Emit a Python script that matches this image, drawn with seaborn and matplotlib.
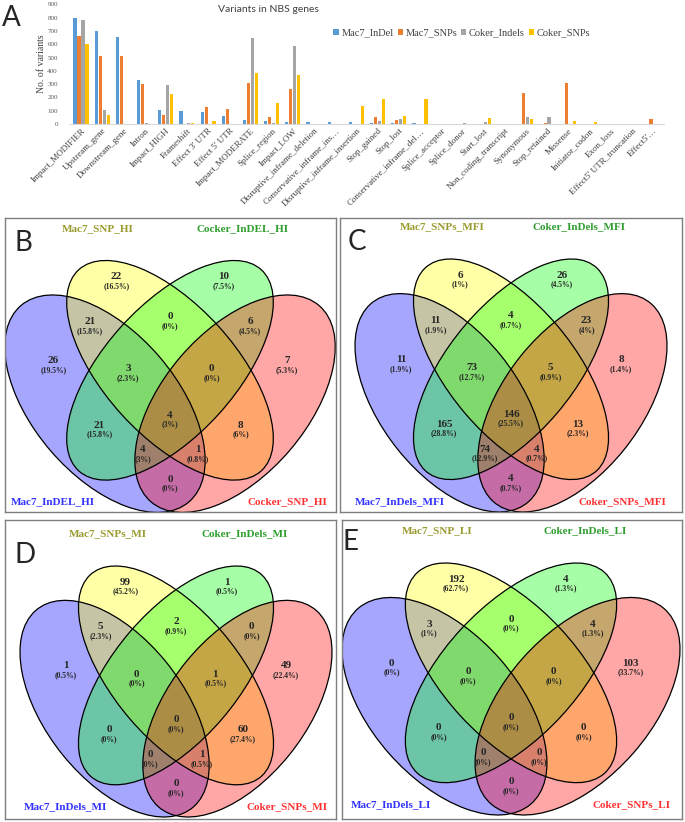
import matplotlib
matplotlib.use("Agg")
import matplotlib.pyplot as plt
from matplotlib.patches import Ellipse
import numpy as np
import pandas as pd
import seaborn as sns

# ---- Panel A data ----
categories = [
    "Impact_MODIFIER", "Upstream_gene", "Downstream_gene", "Intron", "Impact_HIGH",
    "Frameshift", "Effect 3' UTR", "Effect 5' UTR", "Impact_MODERATE", "Splice_region",
    "Impact_LOW", "Disruptive_inframe_deletion", "Conservative_inframe_ins…",
    "Disruptive_inframe_insertion", "Stop_gained", "Stop_lost", "Conservative_inframe_del…",
    "Splice_acceptor", "Splice_donor", "Start_lost", "Non_coding_transcript", "Synonymous",
    "Stop_retained", "Missense", "Initiator_codon", "Exon_loss", "Effect5' UTR_truncation",
    "Effect5'…",
]
mac7_indel = [795, 700, 652, 330, 107, 100, 88, 62, 30, 25, 18, 15, 15, 12, 8, 5, 8,
              3, 2, 2, 3, 0, 0, 0, 0, 2, 0, 0]
mac7_snps = [662, 515, 512, 302, 68, 0, 125, 112, 310, 52, 265, 0, 0, 0, 55, 27, 0,
             3, 2, 0, 0, 230, 8, 310, 0, 3, 0, 37]
coker_indels = [785, 105, 0, 5, 290, 7, 0, 0, 650, 8, 585, 0, 0, 0, 20, 37, 0,
                3, 4, 12, 3, 55, 55, 2, 3, 3, 0, 0]
coker_snps = [600, 68, 0, 0, 225, 5, 25, 0, 380, 160, 370, 0, 0, 132, 190, 60, 190,
              0, 0, 42, 0, 37, 0, 25, 15, 3, 0, 0]
series_names = ["Mac7_InDel", "Mac7_SNPs", "Coker_Indels", "Coker_SNPs"]
bar_colors = ["#5B9BD5", "#ED7D31", "#A5A5A5", "#FFC000"]

# ---- Venn data, region order: sets 1=Mac7 InDel, 2=Mac7 SNP, 3=Coker InDel, 4=Coker SNP ----
regions = ["2", "3", "12", "23", "34", "1", "123", "234", "4", "13", "1234", "24", "134", "124", "14"]
counts_hi = [22, 10, 21, 0, 6, 26, 3, 0, 7, 21, 4, 8, 4, 1, 0]
counts_mfi = [6, 26, 11, 4, 23, 11, 73, 5, 8, 165, 146, 13, 74, 4, 4]
counts_mi = [99, 1, 5, 2, 0, 1, 0, 1, 49, 0, 0, 60, 0, 1, 0]
counts_li = [192, 4, 3, 0, 4, 0, 0, 0, 103, 0, 0, 0, 0, 0, 0]
names_hi = ["Mac7_SNP_HI", "Cocker_InDEL_HI", "Mac7_InDEL_HI", "Cocker_SNP_HI"]
names_mfi = ["Mac7_SNPs_MFI", "Coker_InDels_MFI", "Mac7_InDels_MFI", "Coker_SNPs_MFI"]
names_mi = ["Mac7_SNPs_MI", "Coker_InDels_MI", "Mac7_InDels_MI", "Coker_SNPs_MI"]
names_li = ["Mac7_SNP_LI", "Coker_InDels_LI", "Mac7_InDels_LI", "Coker_SNPs_LI"]

# venn layout in a y-down template frame (pixels of panel B)
X0 = 170.0
inner_c, inner_a, inner_b, inner_ang = (X0, 370.3), 135.8, 65.5, 47.8
outer_c, outer_a, outer_b, outer_ang = (104.95, 403.7), 129.2, 71.9, 49.45
region_xy = {
    "2": (116.3, 276.7), "3": (223.7, 276.7), "12": (90, 321.7), "23": (170, 316.7),
    "34": (250, 321.7), "1": (53.3, 360.7), "123": (128.3, 369), "234": (211.7, 369),
    "4": (286.7, 360.7), "13": (99.2, 425), "1234": (170, 415), "24": (240.8, 425),
    "134": (142.5, 450), "124": (197.5, 450), "14": (170, 479),
}
name_xy = [(97.5, 228.3), (242.5, 228.3), (52.5, 501.7), (287.5, 501.7)]
ell_colors = ["blue", "yellow", "#00FF00", "red"]
name_colors = ["#9B9B2F", "#2E9E2E", "#3333FF", "#FF3333"]

W, H = 685, 822
sns.set_style("white")
plt.rcParams['font.family'] = ['Liberation Serif', 'DejaVu Serif']
fig = plt.figure(figsize=(W / 100, H / 100), dpi=100)


def px_axes(x0, y0, x1, y1):
    return fig.add_axes([x0 / W, 1 - y1 / H, (x1 - x0) / W, (y1 - y0) / H])


# ---- Panel A ----
df = pd.DataFrame({
    "Category": categories * 4,
    "Count": mac7_indel + mac7_snps + coker_indels + coker_snps,
    "Series": sum([[s] * len(categories) for s in series_names], []),
})
ax = px_axes(70.4, 4.3, 663.6, 124)
sns.barplot(data=df, x="Category", y="Count", hue="Series", palette=bar_colors,
            width=0.75, gap=0.2, errorbar=None, saturation=1, linewidth=0, ax=ax)
ax.set_xlim(-0.5, len(categories) - 0.5)
ax.set_ylim(0, 900)
ax.set_yticks(range(0, 901, 100))
ax.tick_params(axis='y', labelsize=5, labelcolor='#595959', length=0, pad=9)
ax.tick_params(axis='x', length=0, pad=2)
ax.set_xticks(range(len(categories)))
ax.set_xticklabels(categories, rotation=45, ha='right', rotation_mode='anchor',
                   fontsize=6.5, color='#404040')
ax.set_xlabel("")
ax.set_ylabel("No. of variants", fontsize=7, color='#404040')
ax.yaxis.set_label_coords(-0.041, 0.5)
for s in ["top", "right", "left"]:
    ax.spines[s].set_visible(False)
ax.spines["bottom"].set_color('#D9D9D9')
ax.spines["bottom"].set_linewidth(0.8)
ax.legend(ncol=4, loc='center', bbox_to_anchor=(462 / W, 1 - 33 / H),
          bbox_transform=fig.transFigure, frameon=False, fontsize=7.5,
          handlelength=0.5, handleheight=0.5, handletextpad=0.25, columnspacing=0.4,
          labelcolor='#404040')
fig.text(268 / W, 1 - 10 / H, "Variants in NBS genes", fontsize=7.5, family='Lato',
         ha='center', va='center', color='#404040')
fig.text(11 / W, 1 - 18 / H, "A", fontsize=20, family='Lato', ha='center', va='center')


# ---- Venn panels ----
def half_extent(a, b, ang):
    t = np.radians(ang)
    return (np.hypot(a * np.cos(t), b * np.sin(t)), np.hypot(a * np.sin(t), b * np.cos(t)))


o_hx, o_hy = half_extent(outer_a, outer_b, outer_ang)
i_hx, i_hy = half_extent(inner_a, inner_b, inner_ang)
t_left = outer_c[0] - o_hx
t_right = 2 * X0 - t_left
t_top = inner_c[1] - i_hy
t_bottom = outer_c[1] + o_hy

ellipses = [
    (outer_c, outer_a, outer_b, outer_ang),
    (inner_c, inner_a, inner_b, inner_ang),
    (inner_c, inner_a, inner_b, 180 - inner_ang),
    ((2 * X0 - outer_c[0], outer_c[1]), outer_a, outer_b, 180 - outer_ang),
]


def draw_venn(box, vbox, names, counts, letter, letter_xy):
    x0, y0, x1, y1 = box
    vl, vr, vt, vb = vbox
    vax = px_axes(x0, y0, x1, y1)
    sx = (t_right - t_left) / (vr - vl)
    sy = (t_bottom - t_top) / (vb - vt)
    vax.set_xlim(t_left + (x0 - vl) * sx, t_left + (x1 - vl) * sx)
    vax.set_ylim(t_top + (y1 - vt) * sy, t_top + (y0 - vt) * sy)
    vax.set_xticks([])
    vax.set_yticks([])
    for s in vax.spines.values():
        s.set_color('#7F7F7F')
        s.set_linewidth(1.0)
    for (c, a, b, ang), col in zip(ellipses, ell_colors):
        vax.add_patch(Ellipse(c, 2 * a, 2 * b, angle=ang, facecolor=col,
                              alpha=0.35, edgecolor='none'))
    for c, a, b, ang in ellipses:
        vax.add_patch(Ellipse(c, 2 * a, 2 * b, angle=ang, facecolor='none',
                              edgecolor='black', lw=0.9))
    total = sum(counts)
    for key, n in zip(regions, counts):
        x, y = region_xy[key]
        pct = round(100 * n / total, 1)
        vax.text(x, y, str(n), fontsize=8, fontweight='bold', ha='center', va='center')
        vax.text(x, y + 9.3, f"({pct:g}%)", fontsize=5.5, fontweight='bold',
                 ha='center', va='center')
    for (nx, ny), nm, col in zip(name_xy, names, name_colors):
        vax.text(nx, ny, nm, fontsize=8, fontweight='bold', color=col,
                 ha='center', va='center')
    fig.text(letter_xy[0] / W, 1 - letter_xy[1] / H, letter, fontsize=20,
             family='Lato', ha='center', va='center')


draw_venn((5, 218, 336, 512), (t_left, t_right, t_top, t_bottom), names_hi, counts_hi, "B", (23, 243))
draw_venn((340, 218, 682, 512), (355, 667, 259, 512), names_mfi, counts_mfi, "C", (357, 242))
draw_venn((5, 520, 336, 819), (20, 332, 566, 817), names_mi, counts_mi, "D", (25, 555))
draw_venn((342, 520, 682, 819), (342, 680, 563, 815), names_li, counts_li, "E", (350, 542))

fig.savefig("out.png", dpi=100)
